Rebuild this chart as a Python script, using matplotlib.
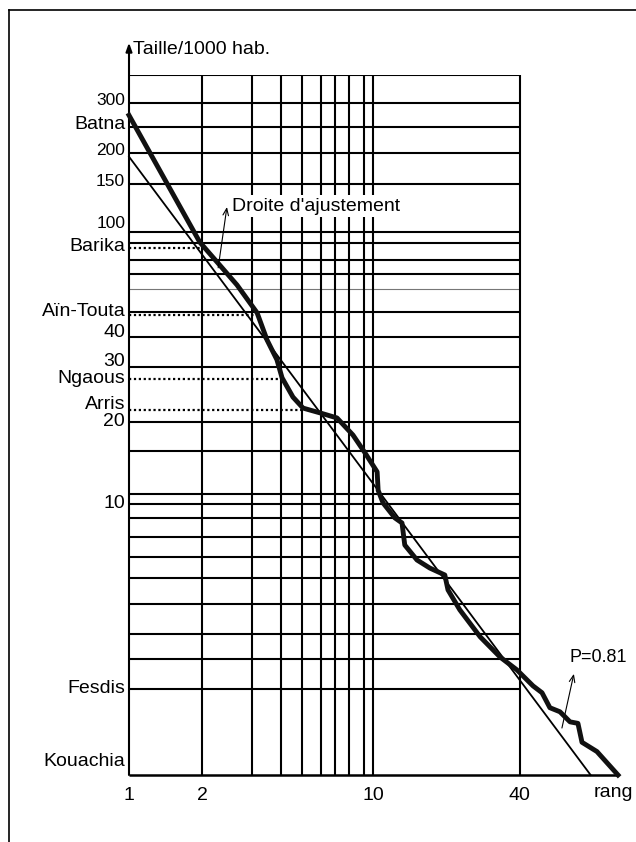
import numpy as np
import matplotlib.pyplot as plt
from matplotlib.lines import Line2D
from matplotlib.ticker import NullLocator

plt.rcParams['font.family'] = ['Liberation Sans', 'DejaVu Sans']

# courbe rang-taille (taille en milliers d'hab.)
rang = [1, 1.95, 2.77, 3.35, 3.68, 4.04, 4.24, 4.70, 5.17, 6.07, 7.12, 8.28, 9.27,
        10.4, 10.5, 11.0, 12.3, 13.15, 13.5, 15.15, 17.1, 19.7, 20.3, 22.7, 27.5,
        33.2, 38.9, 45.3, 49.3, 53.1, 58.4, 64.2, 69.2, 71.9, 82.8, 101]
taille = [270, 92, 64, 50.5, 40.1, 33.9, 29.1, 24.7, 22.5, 21.6, 20.7, 17.9, 15.4,
          13.1, 11.2, 10.06, 8.86, 8.49, 7.04, 6.2, 5.79, 5.46, 4.81, 4.06, 3.23,
          2.72, 2.44, 2.13, 2.01, 1.77, 1.71, 1.57, 1.55, 1.32, 1.22, 1.0]

# droite d'ajustement (extremites)
droite_rang = [1, 78]
droite_taille = [190, 1]

# quadrillage trace a la main
lignes_h = [300, 244, 196, 151, 100, 91, 79, 70, 51, 41, 32, 20, 15.6, 10.9, 10,
            8.86, 7.54, 6.36, 5.32, 4.27, 3.31, 2.68, 2.07]
ligne_fine = 62
lignes_v = [2, 3.2, 4.2, 5.1, 6.1, 7, 8, 9.2, 10]
cadre_haut = 380
cadre_droit = 40

# villes reperees par des pointilles : (taille, rang)
villes_pt = ['Barika', 'Aïn-Touta', 'Ngaous', 'Arris']
villes_pt_taille = [87.6, 49.6, 28.8, 22.2]
villes_pt_rang = [2.0, 3.25, 4.2, 5.1]

# etiquettes de l'axe vertical
etiq_y = ['300', 'Batna', '200', '150', '100', 'Barika', 'Aïn-Touta', '40', '30',
          'Ngaous', 'Arris', '20', '10', 'Fesdis', 'Kouachia']
etiq_y_val = [305, 250, 200, 154, 108, 89, 50.9, 42.6, 33.3, 29, 23.1, 20, 10, 2.09, 1.12]
petits = {'300', '200', '150', '100'}

ticks_x = [1, 2, 10, 40]

fig = plt.figure(figsize=(6.36, 8.42), dpi=100)
ax = fig.add_axes([129/636, 1 - 775/842, 489/636, 700/842])
ax.set_xscale('log')
ax.set_yscale('log')
ax.set_xlim(1, 101)
ax.set_ylim(1, cadre_haut)
for s in ax.spines.values():
    s.set_visible(False)
ax.xaxis.set_minor_locator(NullLocator())
ax.yaxis.set_minor_locator(NullLocator())
ax.set_yticks([])
ax.set_xticks(ticks_x)
ax.set_xticklabels([str(t) for t in ticks_x], fontsize=14)
ax.tick_params(axis='x', length=0, pad=9)

# quadrillage
ax.hlines(lignes_h + [cadre_haut], 1, cadre_droit, color='black', lw=1.5, zorder=1)
ax.hlines(ligne_fine, 1, cadre_droit, color='#777777', lw=0.8, zorder=1)
ax.vlines(lignes_v + [cadre_droit], 1, cadre_haut, color='black', lw=1.5, zorder=1)
ax.hlines(1, 1, 101, color='black', lw=1.8, zorder=2, clip_on=False)

# axe vertical avec fleche
ax.annotate('', xy=(1, 500), xytext=(1, 1), annotation_clip=False,
            arrowprops=dict(arrowstyle='-|>,head_length=0.5,head_width=0.18',
                            color='black', lw=1.5, shrinkA=0, shrinkB=0))
ax.text(1.04, 470, 'Taille/1000 hab.', fontsize=14, va='center', ha='left', clip_on=False)
ax.text(80, 0.86, 'rang', fontsize=14, va='center', ha='left', clip_on=False)

# pointilles
for t, r in zip(villes_pt_taille, villes_pt_rang):
    ax.hlines(t, 1, r, color='black', lw=1.6, linestyles=(0, (1, 1.2)), zorder=2)

# courbe et droite
ax.plot(droite_rang, droite_taille, color='black', lw=1.3, zorder=3, clip_on=False)
ax.plot(rang, taille, color='#111111', lw=3.5, zorder=4, solid_joinstyle='round',
        clip_on=False)

# etiquettes a gauche
for lab, v in zip(etiq_y, etiq_y_val):
    ax.text(0.965, v, lab, ha='right', va='center',
            fontsize=12.5 if lab in petits else 14, clip_on=False)

# annotations
ax.text(2.64, 125, "Droite d'ajustement", fontsize=14, va='center', ha='left', zorder=5,
        bbox=dict(facecolor='white', edgecolor='none', pad=1.5))
ax.annotate('', xy=(2.52, 124), xytext=(2.32, 74),
            arrowprops=dict(arrowstyle='->,head_length=0.5,head_width=0.2',
                            color='black', lw=0.8, shrinkA=0, shrinkB=0), zorder=6)
ax.text(64.2, 2.7, 'P=0.81', fontsize=13, va='center', ha='left', clip_on=False)
ax.annotate('', xy=(66.6, 2.36), xytext=(59.5, 1.49), annotation_clip=False,
            arrowprops=dict(arrowstyle='->,head_length=0.5,head_width=0.2',
                            color='black', lw=0.8, shrinkA=0, shrinkB=0))

# cadre exterieur
fig.add_artist(Line2D([9/636, 1], [1 - 10/842, 1 - 10/842], color='black', lw=1.2))
fig.add_artist(Line2D([9/636, 9/636], [0, 1 - 10/842], color='black', lw=1.2))

fig.savefig('out.png', dpi=100)
